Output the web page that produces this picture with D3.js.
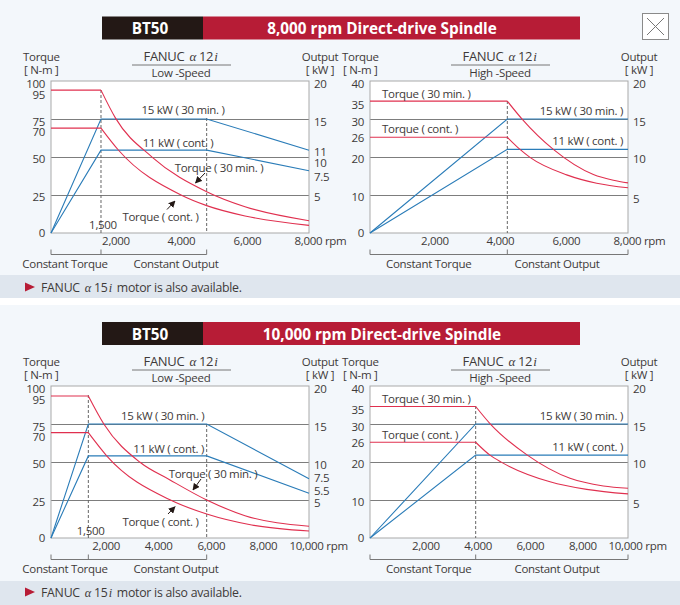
<!DOCTYPE html>
<html>
<head>
<meta charset="utf-8">
<script src="https://cdn.jsdelivr.net/npm/d3@7"></script>
<style>
  html, body { margin: 0; padding: 0; background: #fff; }
  svg { display: block; }
  text { font-family: "Open Sans", sans-serif; font-size: 11.5px; letter-spacing: -0.3px; fill: #3e3a39; }
</style>
</head>
<body>
<div id="chart"></div>
<script>
// values: [rpm, N-m] and [rpm, kW]
var lowTorque30_8k = [[0,94],[1550,94],[2005,75.4],[3142,49.8],[4827,27.2],[6016,17.3],[8000,8.1]];
var lowTorqueCont_8k = [[0,69],[1550,69],[2088,54.6],[4031,25],[4827,18],[6016,11.2],[8000,5]];
var lowPower30_8k = [[0,0],[1550,15],[4827,15],[8000,10.9]];
var lowPowerCont_8k = [[0,0],[1550,10.9],[4827,10.9],[8000,8.2]];

var highTorque30_8k = [[0,34.7],[4258,34.7],[4723,29.9],[5685,22],[6926,15.4],[7545,13.9],[8000,13.2]];
var highTorqueCont_8k = [[0,25.2],[4258,25.2],[4651,22],[4961,19.9],[6099,15.3],[7029,13.1],[8000,11.9]];
var highPower30_8k = [[0,0],[4258,15],[8000,15]];
var highPowerCont_8k = [[0,0],[4258,11],[8000,11]];

var lowTorque30_10k = [[0,93.4],[1447,93.4],[2054,74.8],[3450,49.8],[4612,38.2],[6034,25],[7519,14.7],[10000,7.7]];
var lowTorqueCont_10k = [[0,69.3],[1447,69.3],[2158,54.1],[4651,24.8],[6034,15.8],[7779,8.6],[10000,4.6]];
var lowPower30_10k = [[0,0],[1447,15],[6034,15],[10000,7.8]];
var lowPowerCont_10k = [[0,0],[1447,10.8],[6034,10.8],[10000,5.9]];

var highTorque30_10k = [[0,34.6],[4096,34.6],[4677,29.9],[6098,21.8],[7752,15.7],[9044,13.7],[10000,13.1]];
var highTorqueCont_10k = [[0,25.2],[4096,25.2],[4651,21.8],[5105,19.9],[6977,14.8],[8398,12.8],[10000,11.6]];
var highPower30_10k = [[0,0],[4096,15],[10000,15]];
var highPowerCont_10k = [[0,0],[4096,10.9],[10000,10.9]];

// tick labels
var lowTorqueTicks = [0,25,50,70,75,95,100];
var highTorqueTicks = [0,10,20,26,30,35,40];
var lowOutputTicks_8k = [5,7.5,10,11,15,20];
var lowOutputTicks_10k = [5,5.5,7.5,10,15,20];
var highOutputTicks = [5,10,15,20];
var rpmTicks_8k = [2000,4000,6000,8000];
var rpmTicks_10k = [2000,4000,6000,8000,10000];
var lowGrid = [25,50,75];
var highGrid = [10,20,30];

var width = 680, height = 605;
var plotW = 258, plotH = 152;
var red = "#e0304f", blue = "#2a7cb8", gridCol = "#7d7d7d", frameCol = "#a9a9a9";

var svg = d3.select("#chart").append("svg").attr("width", width).attr("height", height);

svg.append("defs").append("marker")
  .attr("id", "arrow").attr("viewBox", "0 0 10 10").attr("refX", 9).attr("refY", 5)
  .attr("markerWidth", 7).attr("markerHeight", 7).attr("markerUnits", "userSpaceOnUse").attr("orient", "auto")
  .append("path").attr("d", "M0,0L10,5L0,10z").attr("fill", "#231815");

// backgrounds
function band(y, h, col) {
  svg.append("rect").attr("x", 0).attr("y", y).attr("width", width).attr("height", h).attr("fill", col);
}
band(0, 275, "#f3f7fb");
band(275, 23, "#dfe6ee");
band(305, 276, "#f3f7fb");
band(581, 24, "#dfe6ee");

function header(y, title) {
  svg.append("rect").attr("x", 102).attr("y", y).attr("width", 101).attr("height", 23).attr("fill", "#231815");
  svg.append("rect").attr("x", 203).attr("y", y).attr("width", 377).attr("height", 23).attr("fill", "#b71c36");
  svg.append("text").attr("x", 150).attr("y", y + 17.5).attr("text-anchor", "middle")
    .style("font-size", "15.3px").style("letter-spacing", "0").style("font-weight", 700).style("fill", "#fff").text("BT50");
  svg.append("text").attr("x", 382).attr("y", y + 17.5).attr("text-anchor", "middle")
    .style("font-size", "15.3px").style("letter-spacing", "0").style("font-weight", 700).style("fill", "#fff").text(title);
}
header(16.5, "8,000 rpm Direct-drive Spindle");
header(322, "10,000 rpm Direct-drive Spindle");

// close box
svg.append("rect").attr("x", 642.5).attr("y", 13.5).attr("width", 26).attr("height", 26)
  .attr("fill", "#fff").attr("stroke", "#8a8a8a");
svg.append("path").attr("d", "M647,18L664,35M664,18L647,35").attr("stroke", "#777").attr("fill", "none");

function alpha(sel, number) {
  sel.append("tspan").text("FANUC");
  sel.append("tspan").attr("dx", 5).style("font-family", "'Liberation Serif', serif").style("font-style", "italic").text("\u03b1");
  sel.append("tspan").attr("dx", 3).text(number);
  sel.append("tspan").attr("dx", 1).style("font-family", "'Liberation Serif', serif").style("font-style", "italic").text("i");
}

function footer(y) {
  svg.append("path").attr("d", "M25," + (y - 4.5) + "L35," + y + "L25," + (y + 4.5) + "z").attr("fill", "#b71c36");
  var t = svg.append("text").attr("x", 41).attr("y", y + 4.5).style("font-size", "12.3px").style("letter-spacing", "-0.25px");
  alpha(t, "15");
  t.append("tspan").attr("dx", 5).text("motor is also available.");
}
footer(287);
footer(592);

function label(g, x, y, s, anchor) {
  return g.append("text").attr("x", x).attr("y", y + 4).attr("text-anchor", anchor || "middle").text(s);
}

function panel(p) {
  var g = svg.append("g");
  var x0 = p.x0, y0 = p.y0, x1 = x0 + plotW, y1 = y0 - plotH;

  var x = d3.scaleLinear().domain([0, p.rpmMax]).range([x0, x1]);
  var yL = d3.scaleLinear().domain([0, p.torqueMax]).range([y0, y1]);
  var yR = d3.scaleLinear().domain([0, 20]).range([y0, y1]);

  g.append("rect").attr("x", x0).attr("y", y1).attr("width", plotW).attr("height", plotH).attr("fill", "#fff");

  g.selectAll(".grid").data(p.grid).enter().append("line")
    .attr("x1", x0).attr("x2", x1)
    .attr("y1", function(d) { return Math.round(yL(d)) + 0.5; })
    .attr("y2", function(d) { return Math.round(yL(d)) + 0.5; })
    .attr("stroke", gridCol).attr("stroke-width", 1);

  g.append("rect").attr("x", x0).attr("y", y1).attr("width", plotW).attr("height", plotH)
    .attr("fill", "none").attr("stroke", frameCol).attr("stroke-width", 1);

  // dashed rpm markers
  p.breaks.forEach(function(b, i) {
    g.append("line").attr("x1", x(b)).attr("x2", x(b)).attr("y1", p.dashTop[i]).attr("y2", y0)
      .attr("stroke", "#666").attr("stroke-dasharray", "3,2");
  });

  // curves
  var line = function(yScale, curve) {
    return d3.line().x(function(d) { return x(d[0]); }).y(function(d) { return yScale(d[1]); }).curve(curve);
  };
  [p.power30, p.powerCont].forEach(function(s) {
    g.append("path").datum(s).attr("d", line(yR, d3.curveLinear)).attr("fill", "none").attr("stroke", blue).attr("stroke-width", 1.1);
  });
  // torque: flat part is straight, the corner stays sharp, only the fall-off is smoothed
  [p.torque30, p.torqueCont].forEach(function(s) {
    g.append("path").datum(s.slice(0, 2)).attr("d", line(yL, d3.curveLinear)).attr("fill", "none").attr("stroke", red).attr("stroke-width", 1.1);
    g.append("path").datum(s.slice(1)).attr("d", line(yL, d3.curveMonotoneX)).attr("fill", "none").attr("stroke", red).attr("stroke-width", 1.1);
  });

  // axes
  var left = g.append("g").attr("transform", "translate(" + x0 + ",0)")
    .call(d3.axisLeft(yL).tickValues(p.torqueTicks).tickSize(0).tickPadding(6));
  left.selectAll("text").attr("dy", null).attr("y", function(d) { return (p.leftNudge[d] || 0) + 4; });

  var right = g.append("g").attr("transform", "translate(" + x1 + ",0)")
    .call(d3.axisRight(yR).tickValues(p.outputTicks).tickSize(0).tickPadding(5).tickFormat(function(d) { return d; }));
  right.selectAll("text").attr("dy", null).attr("y", function(d) { return (p.rightNudge[d] || 0) + 4; });

  var bottom = g.append("g").attr("transform", "translate(0," + y0 + ")")
    .call(d3.axisBottom(x).tickValues(p.rpmTicks).tickSize(0).tickPadding(4).tickFormat(function(d) {
      return d === p.rpmMax ? d3.format(",")(d) + " rpm" : d3.format(",")(d);
    }));
  bottom.selectAll("text").attr("dy", null).attr("y", 12)
    .attr("dx", function(d, i) { return p.rpmNudge[i]; })
    .attr("text-anchor", function(d) { return d === p.rpmMax ? "start" : "middle"; });
  g.selectAll(".domain").remove();
  g.selectAll(".tick text").style("font-size", "11.5px").style("fill", "#3e3a39").style("font-family", "'Open Sans', sans-serif");

  // heads
  label(g, x0 - 28, y1 - 24, "Torque", "start");
  label(g, x0 - 27, y1 - 11, "[ N-m ]", "start");
  label(g, x1 + 11, y1 - 24, "Output");
  label(g, x1 + 11, y1 - 11, "[ kW ]");
  var t = g.append("text").attr("x", x0 + 129.5).attr("y", y1 - 20).attr("text-anchor", "middle").style("font-size", "13px");
  alpha(t, "12");
  g.append("line").attr("x1", x0 + 81).attr("x2", x0 + 180).attr("y1", y1 - 16).attr("y2", y1 - 16).attr("stroke", "#777");
  label(g, x0 + 130, y1 - 8, p.speed);

  // bracket
  var by = y0 + 21.5;
  var bEnd = p.breaks.length > 1 ? x(p.breaks[1]) : x1;
  g.append("path").attr("d", "M" + x0 + "," + (by - 5) + "V" + by + "H" + bEnd + "V" + (by - 5))
    .attr("fill", "none").attr("stroke", "#777");
  g.append("line").attr("x1", x(p.breaks[0])).attr("x2", x(p.breaks[0])).attr("y1", by - 5).attr("y2", by).attr("stroke", "#777");
  label(g, p.constX[0], y0 + 31, "Constant Torque");
  label(g, p.constX[1], y0 + 31, "Constant Output");

  // annotations
  p.notes.forEach(function(n) { label(g, n[0], n[1], n[2], n[3]); });
  p.arrows.forEach(function(a) {
    g.append("line").attr("x1", a[0]).attr("y1", a[1]).attr("x2", a[2]).attr("y2", a[3])
      .attr("stroke", "#231815").attr("marker-end", "url(#arrow)");
  });
}

panel({
  x0: 51, y0: 233, rpmMax: 8000, torqueMax: 100, speed: "Low -Speed", grid: lowGrid,
  torque30: lowTorque30_8k, torqueCont: lowTorqueCont_8k, power30: lowPower30_8k, powerCont: lowPowerCont_8k,
  torqueTicks: lowTorqueTicks, outputTicks: lowOutputTicks_8k, rpmTicks: rpmTicks_8k, breaks: [1550, 4827], dashTop: [90, 118],
  leftNudge: {100: 2.7, 95: 6, 75: 2.7, 70: 4.4, 50: 1.7, 25: 1.7, 0: -1},
  rightNudge: {20: 2.3, 15: 2.3, 11: 1.6, 10: 5.7, 7.5: 0, 5: 1.7},
  rpmNudge: [0, 1, 2.5, -15], constX: [65, 176],
  notes: [[183, 110, "15 kW ( 30 min. )"], [178, 143, "11 kW ( cont. )"], [219, 168, "Torque ( 30 min. )"], [160.5, 216.7, "Torque ( cont. )"], [103, 225, "1,500"]],
  arrows: [[205, 173, 195.5, 183], [167, 209.5, 175, 201]]
});
panel({
  x0: 370, y0: 233, rpmMax: 8000, torqueMax: 40, speed: "High -Speed", grid: highGrid,
  torque30: highTorque30_8k, torqueCont: highTorqueCont_8k, power30: highPower30_8k, powerCont: highPowerCont_8k,
  torqueTicks: highTorqueTicks, outputTicks: highOutputTicks, rpmTicks: rpmTicks_8k, breaks: [4258], dashTop: [101],
  leftNudge: {40: 2.7, 35: 4, 30: 2.7, 26: 3.5, 20: 1.7, 10: 1.7, 0: -1},
  rightNudge: {20: 2.3, 15: 2.3, 10: 1.7, 5: 3.3},
  rpmNudge: [0, 1, 2.5, -15], constX: [428.7, 557],
  notes: [[382, 93.7, "Torque ( 30 min. )", "start"], [382, 129, "Torque ( cont. )", "start"], [623, 110.5, "15 kW ( 30 min. )", "end"], [623, 141, "11 kW ( cont. )", "end"]],
  arrows: []
});
panel({
  x0: 51, y0: 538, rpmMax: 10000, torqueMax: 100, speed: "Low -Speed", grid: lowGrid,
  torque30: lowTorque30_10k, torqueCont: lowTorqueCont_10k, power30: lowPower30_10k, powerCont: lowPowerCont_10k,
  torqueTicks: lowTorqueTicks, outputTicks: lowOutputTicks_10k, rpmTicks: rpmTicks_10k, breaks: [1447, 6034], dashTop: [395, 424],
  leftNudge: {100: 2.7, 95: 6, 75: 2.7, 70: 4.4, 50: 1.7, 25: 1.7, 0: -1},
  rightNudge: {20: 2.3, 15: 2.3, 10: 2.3, 7.5: -4, 5.5: -6, 5: 2},
  rpmNudge: [3, 4, 5, 5.6, -20], constX: [65, 176],
  notes: [[162.7, 416.3, "15 kW ( 30 min. )"], [168.7, 448.7, "11 kW ( cont. )"], [213, 473.7, "Torque ( 30 min. )"], [160.5, 522.3, "Torque ( cont. )"], [90.7, 530.7, "1,500"]],
  arrows: [[201, 479, 193, 490], [168, 514, 175, 506.7]]
});
panel({
  x0: 370, y0: 538, rpmMax: 10000, torqueMax: 40, speed: "High -Speed", grid: highGrid,
  torque30: highTorque30_10k, torqueCont: highTorqueCont_10k, power30: highPower30_10k, powerCont: highPowerCont_10k,
  torqueTicks: highTorqueTicks, outputTicks: highOutputTicks, rpmTicks: rpmTicks_10k, breaks: [4096], dashTop: [406],
  leftNudge: {40: 2.7, 35: 4, 30: 2.7, 26: 3.5, 20: 1.7, 10: 1.7, 0: -1},
  rightNudge: {20: 2.3, 15: 2.3, 10: 1.7, 5: 3.3},
  rpmNudge: [3.7, 4.5, 5, 6, -20], constX: [428.7, 557],
  notes: [[382, 399.3, "Torque ( 30 min. )", "start"], [382, 435, "Torque ( cont. )", "start"], [623, 416, "15 kW ( 30 min. )", "end"], [623, 446.7, "11 kW ( cont. )", "end"]],
  arrows: []
});
</script>
</body>
</html>
